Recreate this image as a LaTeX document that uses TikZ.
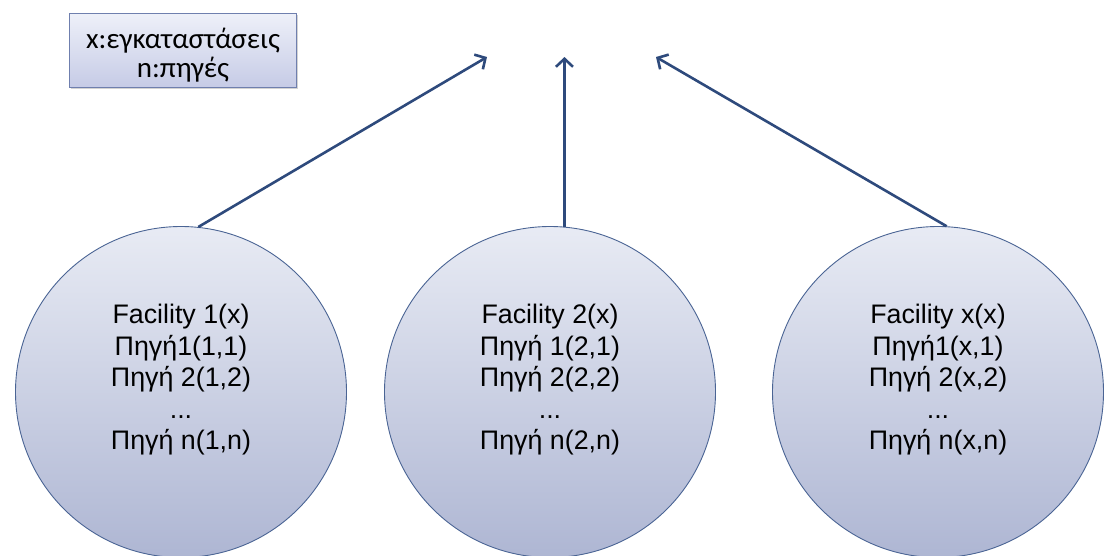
\documentclass[tikz,border=0pt]{standalone}
\usepackage{fontspec}
\setmainfont{Liberation Sans}
\newfontfamily\legendfont{Carlito}
\usetikzlibrary{arrows.meta,shadows}

\definecolor{rimblue}{HTML}{4A6494}
\definecolor{arrowblue}{HTML}{2E4A7C}
\definecolor{balltop}{HTML}{E8EBF4}
\definecolor{ballbottom}{HTML}{AEB6D3}
\definecolor{keytop}{HTML}{EEF0F9}
\definecolor{keybottom}{HTML}{C6CBE6}
\definecolor{keyrim}{HTML}{6F7FAE}

\tikzset{
  ball/.style={circle, draw=rimblue, line width=0.9pt, minimum size=331pt,
    inner sep=0pt, top color=balltop, bottom color=ballbottom},
  balltext/.style={align=center, text=black,
    font=\fontsize{26.8}{31.5}\selectfont},
  keybox/.style={rectangle, draw=keyrim, line width=0.8pt,
    minimum width=227pt, minimum height=74pt, inner sep=0pt,
    top color=keytop, bottom color=keybottom,
    drop shadow={opacity=0.35, shadow xshift=2pt, shadow yshift=-2pt}},
  keytext/.style={align=center, text=black, inner sep=0pt,
    font=\legendfont\fontsize{29}{29}\selectfont},
  link/.style={draw=arrowblue, line width=2.6pt,
    -{Straight Barb[length=8pt, width=17pt, line width=2.6pt]}}
}

\begin{document}
\begin{tikzpicture}[x=1pt, y=-1pt]
  \useasboundingbox (0,0) rectangle (1104,555);

  % legend
  \node[keybox] (key) at (182.5,50) {};
  \node[keytext] (keylabel) at (183,55) {x:εγκαταστάσεις\\n:πηγές};

  % the three facilities
  \node[ball] (c1) at (181,392) {};
  \node[ball] (c2) at (550,392) {};
  \node[ball] (c3) at (938,392) {};

  \node[balltext] (t1) at (181,380)
    {Facility 1(x)\\Πηγή1(1,1)\\Πηγή 2(1,2)\\...\\Πηγή n(1,n)};
  \node[balltext] (t2) at (550,380)
    {Facility 2(x)\\Πηγή 1(2,1)\\Πηγή 2(2,2)\\...\\Πηγή n(2,n)};
  \node[balltext] (t3) at (938,380)
    {Facility x(x)\\Πηγή1(x,1)\\Πηγή 2(x,2)\\...\\Πηγή n(x,n)};

  % arrow tips
  \coordinate (top) at (0,57);
  \coordinate (tipL) at (487,57);
  \coordinate (tipM) at (c2.85.5 |- top);
  \coordinate (tipR) at (656,57);

  \draw[link] (c1.84.5) -- (tipL);
  \draw[link] (c2.85.5) -- (tipM);
  \draw[link] (c3.87.5) -- (tipR);
\end{tikzpicture}
\end{document}
